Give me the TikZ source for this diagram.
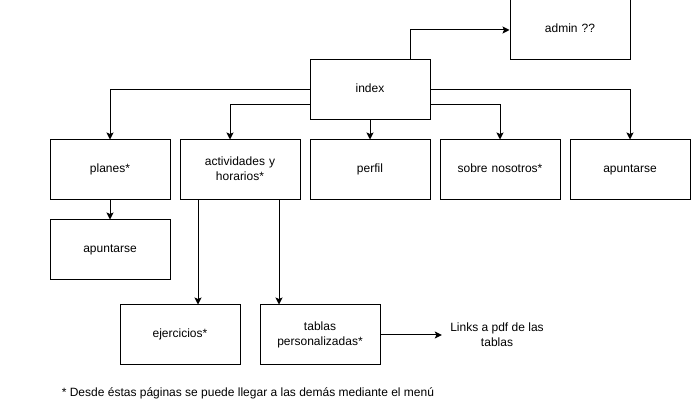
\documentclass[tikz,border=0pt]{standalone}
\usepackage{fontspec}
\setmainfont{Liberation Sans}
\usetikzlibrary{arrows.meta, positioning}

\begin{document}
\begin{tikzpicture}[
    x = 1pt, y = -1pt,
    line width = 1pt,
    font = \fontsize{12}{15}\selectfont,
    page/.style = {draw, rectangle, minimum width = 120pt, minimum height = 60pt,
                   align = center, text width = 110pt,
                   execute at begin node = \strut, execute at end node = \strut},
    link/.style = {-{Stealth[length=7pt, width=7pt, inset=1.5pt]}}
  ]
  \useasboundingbox (0,0) rectangle (691,411);

  % pages
  \node[page] (index)   at (370,90)  {index};
  \node[page] (admin)   at (570,30)  {admin ??};
  \node[page] (planes)  at (110,170) {planes*};
  \node[page] (activ)   at (240,170) {actividades y\\horarios*};
  \node[page] (perfil)  at (370,170) {perfil};
  \node[page] (sobre)   at (500,170) {sobre nosotros*};
  \node[page] (apunt)   at (630,170) {apuntarse};
  \node[page] (apuntP)  at (110,250) {apuntarse};
  \node[page] (ejerc)   at (180,335) {ejercicios*};
  \node[page] (tablas)  at (320,335) {tablas\\personalizadas*};

  % free text
  \node[align = center, inner sep = 8pt] (links) at (497,335) {Links a pdf de las\\tablas};
  \node[anchor = west] (nota) at (58,393)
    {* Desde éstas páginas se puede llegar a las demás mediante el menú};

  % connectors
  \draw[link] ([xshift=40pt]index.north) |- (admin.west);
  \draw[link] (index.west) -| (planes.north);
  \draw[link] ([yshift=-15pt]index.west) -| ([xshift=-10pt]activ.north);
  \draw[link] (index.south) -- (perfil.north);
  \draw[link] ([yshift=-15pt]index.east) -| (sobre.north);
  \draw[link] (index.east) -| (apunt.north);
  \draw[link] (planes.south) -- (apuntP.north);
  \draw[link] ([xshift=-42pt]activ.south) -- ([xshift=-42pt]activ.south |- ejerc.north);
  \draw[link] ([xshift=39pt]activ.south) -- ([xshift=39pt]activ.south |- tablas.north);
  \draw[link] (tablas.east) -- (links.west);

\end{tikzpicture}
\end{document}
